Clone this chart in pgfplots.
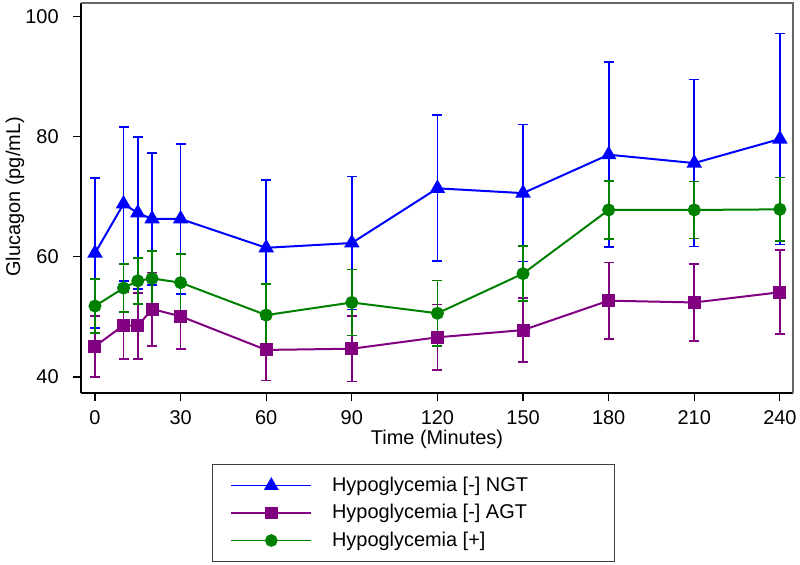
\documentclass[border=0pt]{standalone}
\usepackage{fontspec}
\setmainfont{Liberation Sans}
\usepackage{pgfplots}
\pgfplotsset{compat=1.18}
\usepackage{pgfplotstable}
\definecolor{cblue}{RGB}{0,0,255}
\definecolor{cpurple}{RGB}{128,0,128}
\definecolor{cgreen}{RGB}{0,128,0}

\pgfplotstableread{
t y e
0 60.6 12.5
10 68.8 12.85
15 67.3 12.6
20 66.3 11.0
30 66.3 12.5
60 61.5 11.3
90 62.3 11.05
120 71.4 12.15
150 70.6 11.4
180 77.0 15.4
210 75.6 13.9
240 79.6 17.55
}\ngt

\pgfplotstableread{
t y e
0 45.1 5.05
10 48.6 5.6
15 48.5 5.5
20 51.3 6.1
30 50.1 5.5
60 44.5 5.1
90 44.7 5.45
120 46.6 5.45
150 47.8 5.35
180 52.7 6.35
210 52.4 6.45
240 54.1 7.0
}\agt

\pgfplotstableread{
t y e
0 51.8 4.45
10 54.8 4.0
15 56.0 3.8
20 56.4 4.6
30 55.7 4.75
60 50.3 5.2
90 52.4 5.5
120 50.6 5.45
150 57.2 4.55
180 67.8 4.8
210 67.8 4.75
240 67.9 5.3
}\hypo

\begin{document}
\fontsize{20}{24}\selectfont
\begin{tikzpicture}[x=1bp,y=1bp]
\begin{axis}[
  at={(0,0)}, anchor=south west,
  scale only axis, width=712bp, height=390bp,
  xmin=-4.9, xmax=244.6, ymin=37.33, ymax=102.25,
  xtick={0,30,60,90,120,150,180,210,240},
  ytick={40,60,80,100},
  axis x line*=bottom, axis y line*=left,
  axis line style={line width=1.5bp, black, -},
  tick align=outside, major tick length=8bp,
  tick style={line width=1.2bp, black},
  /pgf/number format/assume math mode=true,
  font=\fontsize{20}{24}\selectfont,
  ticklabel style={font=\fontsize{20}{24}\selectfont},
  yticklabel style={xshift=-7.5bp},
  xticklabel style={anchor=base, yshift=-23bp},
  xlabel={Time (Minutes)},
  ylabel={Glucagon (pg/mL)},
  xlabel style={at={(axis description cs:0.5,-0.1333)}, anchor=base},
  ylabel style={at={(axis description cs:-0.0927,0.503)}, anchor=center},
  clip=false,
  legend style={at={(axis description cs:0.184,-0.182)}, anchor=north west,
    draw=black!75, line width=1bp, inner xsep=18bp, inner ysep=10.5bp,
    font=\fontsize{20}{24}\selectfont, row sep=6bp},
  legend cell align=left,
  legend image code/.code={\draw[mark repeat=2,mark phase=2,#1,line width=1.6bp] plot coordinates {(0bp,0bp) (40bp,0bp) (80bp,0bp)};},
]
\draw[black!60, line width=1.2bp] (rel axis cs:0,1) -- (rel axis cs:1,1) -- (rel axis cs:1,0);

\addplot[cblue, line width=2bp, mark=triangle*, mark size=7bp,
  error bars/.cd, y dir=both, y explicit,
  error bar style={line width=1.7bp, cblue},
  error mark options={rotate=90, mark size=5bp, line width=1.7bp, cblue}]
  table[x=t, y=y, y error=e] {\ngt};
\addlegendentry{\makebox[280bp][l]{\hspace{18bp}Hypoglycemia [-] NGT}}

\addplot[cpurple, line width=2bp, mark=square*, mark size=5.5bp,
  error bars/.cd, y dir=both, y explicit,
  error bar style={line width=1.7bp, cpurple},
  error mark options={rotate=90, mark size=5bp, line width=1.7bp, cpurple}]
  table[x=t, y=y, y error=e] {\agt};
\addlegendentry{\makebox[280bp][l]{\hspace{18bp}Hypoglycemia [-] AGT}}

\addplot[cgreen, line width=2bp, mark=*, mark size=5.5bp,
  error bars/.cd, y dir=both, y explicit,
  error bar style={line width=1.7bp, cgreen},
  error mark options={rotate=90, mark size=5bp, line width=1.7bp, cgreen}]
  table[x=t, y=y, y error=e] {\hypo};
\addlegendentry{\makebox[280bp][l]{\hspace{18bp}Hypoglycemia [+]}}
\end{axis}
\pgfresetboundingbox
\path (-81bp,-172bp) rectangle (719bp,393bp);
\end{tikzpicture}
\end{document}
